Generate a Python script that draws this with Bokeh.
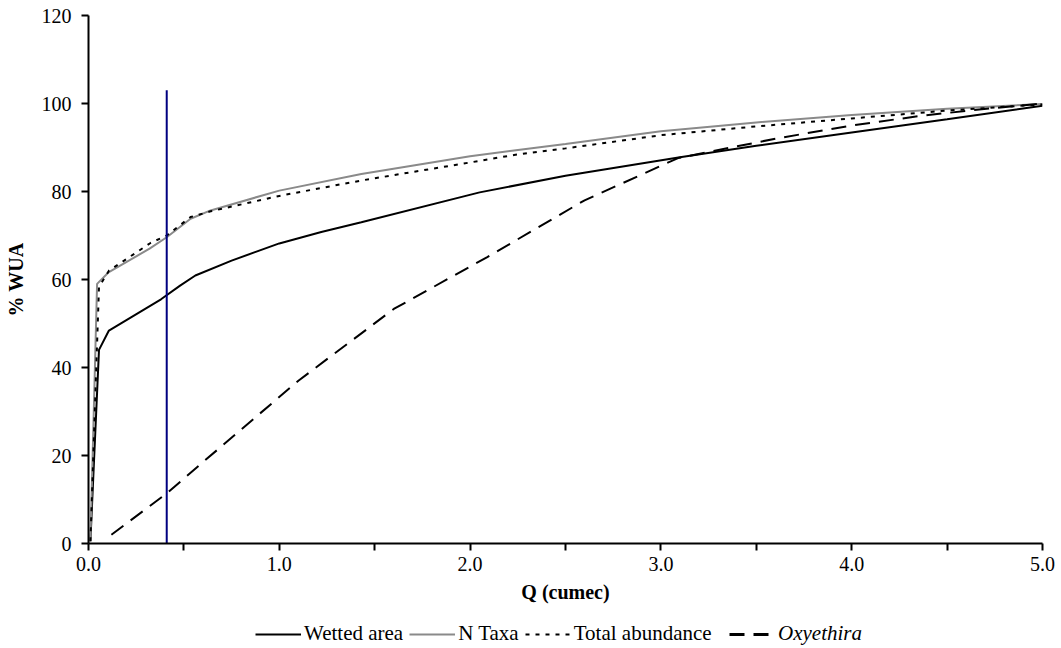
from bokeh.plotting import figure
from bokeh.models import Range1d, FixedTicker, Legend, LegendItem, NumeralTickFormatter
from bokeh.layouts import column
from bokeh.embed import file_html
from bokeh.resources import INLINE

# ---- data ----
wetted_q = [0.01, 0.055, 0.107, 0.38, 0.48, 0.56, 0.75, 1.0, 1.22, 1.43, 2.05, 2.5, 3.1, 3.5, 4.0, 4.5, 5.0]
wetted = [0.5, 44.0, 48.4, 55.5, 58.6, 60.9, 64.3, 68.2, 70.8, 73.0, 79.8, 83.6, 87.8, 90.4, 93.4, 96.4, 99.5]

ntaxa_q = [0.01, 0.045, 0.107, 0.32, 0.41, 0.535, 0.64, 1.0, 1.43, 2.0, 2.23, 2.5, 3.0, 3.5, 4.0, 4.5, 5.0]
ntaxa = [0.5, 59.0, 61.7, 67.0, 69.6, 73.8, 75.7, 80.2, 84.0, 88.0, 89.3, 90.8, 93.7, 95.7, 97.4, 98.8, 99.9]

abund_q = [0.01, 0.055, 0.107, 0.325, 0.41, 0.535, 0.64, 1.0, 1.43, 2.0, 2.23, 2.5, 3.0, 3.5, 4.0, 4.5, 5.0]
abund = [0.5, 58.3, 62.0, 68.3, 70.0, 74.2, 75.5, 79.0, 82.5, 86.6, 88.3, 89.8, 92.8, 94.8, 96.6, 98.4, 99.8]

oxy_q = [0.12, 0.41, 0.6, 1.1, 1.6, 2.09, 2.6, 3.09, 3.6, 4.0, 4.38, 4.73, 5.0]
oxy = [2.0, 11.4, 18.5, 37.0, 53.3, 65.1, 78.0, 87.6, 92.0, 95.0, 97.3, 98.9, 100.0]

threshold_q = [0.41]
threshold_bottom = [0.0]
threshold_top = [103.0]

x_major_ticks = [0, 1, 2, 3, 4, 5]
x_minor_ticks = [0.5, 1.5, 2.5, 3.5, 4.5]
y_ticks = [0, 20, 40, 60, 80, 100, 120]

series_labels = ["Wetted area", "N Taxa", "Total abundance", "Oxyethira"]

FONT = "Liberation Serif"
GRAY = "#8a8a8a"
DOT = "4 6"
DASH = "15 9"

p = figure(width=1061, height=612, output_backend="svg", toolbar_location=None,
           x_range=Range1d(0, 5), y_range=Range1d(0, 120),
           min_border_left=88, min_border_right=19, min_border_top=15, min_border_bottom=69)
p.outline_line_color = None
p.xgrid.grid_line_color = None
p.ygrid.grid_line_color = None
p.background_fill_color = "white"
p.border_fill_color = "white"

p.xaxis.ticker = FixedTicker(ticks=x_major_ticks, minor_ticks=x_minor_ticks)
p.xaxis.formatter = NumeralTickFormatter(format="0.0")
p.yaxis.ticker = FixedTicker(ticks=y_ticks)

for ax in (p.xaxis, p.yaxis):
    ax.axis_line_width = 2
    ax.axis_line_color = "black"
    ax.major_tick_line_width = 2
    ax.major_tick_line_color = "black"
    ax.major_tick_out = 7
    ax.major_tick_in = 0
    ax.minor_tick_line_width = 2
    ax.minor_tick_line_color = "black"
    ax.minor_tick_out = 7
    ax.minor_tick_in = 0
    ax.major_label_text_font = FONT
    ax.major_label_text_font_size = "20px"
    ax.major_label_text_color = "black"
    ax.axis_label_text_font = FONT
    ax.axis_label_text_font_size = "20px"
    ax.axis_label_text_font_style = "bold"
    ax.axis_label_text_color = "black"

p.xaxis.axis_label = "Q (cumec)"
p.yaxis.axis_label = "% WUA"
p.xaxis.major_label_standoff = 6
p.xaxis.axis_label_standoff = 7
p.yaxis.major_label_standoff = 10
p.yaxis.axis_label_standoff = 12

p.line(wetted_q, wetted, line_color="black", line_width=2)
p.line(ntaxa_q, ntaxa, line_color=GRAY, line_width=2)
p.line(abund_q, abund, line_color="black", line_width=2, line_dash=DOT)
p.line(oxy_q, oxy, line_color="black", line_width=2, line_dash=DASH)
p.segment(x0=threshold_q, y0=threshold_bottom, x1=threshold_q, y1=threshold_top,
          line_color="#000080", line_width=2)

# ---- legend strip (its ranges keep the series out of view; only legend glyphs show) ----
lg = figure(width=1061, height=36, output_backend="svg", toolbar_location=None,
            x_range=Range1d(100, 101), y_range=Range1d(1000, 1001),
            x_axis_location=None, y_axis_location=None,
            min_border_left=88, min_border_right=19, min_border_top=0, min_border_bottom=0)
lg.outline_line_color = None
lg.xgrid.grid_line_color = None
lg.ygrid.grid_line_color = None
d1 = lg.line(wetted_q, wetted, line_color="black", line_width=2)
d2 = lg.line(ntaxa_q, ntaxa, line_color=GRAY, line_width=2)
d3 = lg.line(abund_q, abund, line_color="black", line_width=2, line_dash=DOT)
d4 = lg.line(oxy_q, oxy, line_color="black", line_width=3, line_dash=DASH)

def make_legend(items, loc, style):
    return Legend(items=items, location=loc, orientation="horizontal",
                  glyph_width=46, glyph_height=20, label_standoff=3, spacing=6,
                  padding=0, margin=0, border_line_color=None, background_fill_alpha=0,
                  label_text_font=FONT, label_text_font_size="21px",
                  label_text_font_style=style, label_text_color="black",
                  label_height=20)

leg1 = make_legend([LegendItem(label=series_labels[0], renderers=[d1]),
                    LegendItem(label=series_labels[1], renderers=[d2]),
                    LegendItem(label=series_labels[2], renderers=[d3])], (167, 2), "normal")
leg2 = make_legend([LegendItem(label=series_labels[3], renderers=[d4])], (641, 2), "italic")
lg.add_layout(leg1, "center")
lg.add_layout(leg2, "center")

layout = column(p, lg, spacing=0)
open("out.html", "w").write(file_html(layout, INLINE))
